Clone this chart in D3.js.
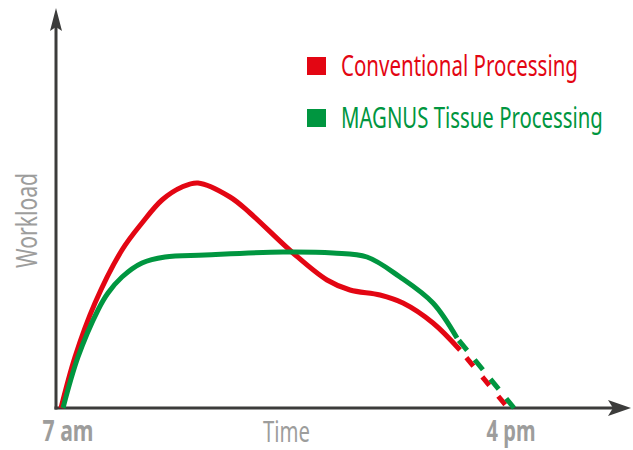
<!DOCTYPE html>
<html>
<head>
<meta charset="utf-8">
<script src="https://d3js.org/d3.v7.min.js"></script>
<style>
  body { margin: 0; background: #fff; }
  text { font-family: "Noto Sans", "Open Sans", sans-serif; }
</style>
</head>
<body>
<div id="chart"></div>
<script>
// time of day in hours, workload in arbitrary units (0-100)
const tickHours = [7, 16];
const tickLabels = ["7 am", "4 pm"];
const seriesNames = ["Conventional Processing", "MAGNUS Tissue Processing"];
const seriesColors = ["#e30613", "#009640"];

const convHours = [7, 7.28, 7.68, 8.22, 8.62, 9.02, 9.42, 9.74, 10.38, 10.78, 11.64, 12.32, 12.78, 13.38, 13.84, 14.44, 14.98];
const convLoad  = [0, 12.75, 26.25, 39.5, 46.25, 52, 55.25, 56.25, 52.75, 48.75, 38.75, 32, 29.5, 28.25, 26.25, 21.25, 14.5];
const convTailHours = [14.98, 15.94];
const convTailLoad  = [14.5, 0];

const magHours = [7.04, 7.34, 7.74, 7.94, 8.22, 8.62, 9.08, 9.88, 11.44, 12.44, 13.12, 13.78, 14.44, 14.92];
const magLoad  = [0, 12.75, 24.5, 28.75, 32.75, 36.25, 37.75, 38.25, 39, 38.75, 37.75, 32.75, 26.25, 17.5];
const magTailHours = [14.92, 16.06];
const magTailLoad  = [17.5, 0];

let width = 633, height = 450;

let svg = d3.select("#chart")
  .append("svg")
    .attr("width", width)
    .attr("height", height);

// Scales
let x = d3.scaleLinear().domain([7, 16]).range([61, 511]);
let y = d3.scaleLinear().domain([0, 100]).range([408, 8]);

let axisColor = "#3c3c3b", labelGrey = "#9d9d9c";
let x0 = x(7) - 5, y0 = y(0);

// squeeze a text horizontally to a given width (the source font is a condensed one)
function fitText(sel, len, pre) {
  let natural = sel.node().getComputedTextLength();
  sel.attr("transform", pre + " scale(" + (len / natural) + ",1)");
}

// y axis with arrow
svg.append("line")
  .attr("x1", x0).attr("y1", y0 + 1.5)
  .attr("x2", x0).attr("y2", y(100) + 16)
  .attr("stroke", axisColor).attr("stroke-width", 3);
svg.append("path")
  .attr("d", "M" + x0 + "," + y(100) + " L" + (x0 + 6) + "," + (y(100) + 23) + " L" + x0 + "," + (y(100) + 19) + " L" + (x0 - 6) + "," + (y(100) + 23) + "Z")
  .attr("fill", axisColor);

// x axis with arrow
let xEnd = 631;
svg.append("line")
  .attr("x1", x0 - 1.5).attr("y1", y0)
  .attr("x2", xEnd - 16).attr("y2", y0)
  .attr("stroke", axisColor).attr("stroke-width", 3);
svg.append("path")
  .attr("d", "M" + xEnd + "," + y0 + " L" + (xEnd - 23) + "," + (y0 - 8) + " L" + (xEnd - 18) + "," + y0 + " L" + (xEnd - 23) + "," + (y0 + 8) + "Z")
  .attr("fill", axisColor);

let line = d3.line()
  .x(function(d) { return x(d[0]); })
  .y(function(d) { return y(d[1]); })
  .curve(d3.curveCatmullRom.alpha(0.5));

let straight = d3.line()
  .x(function(d) { return x(d[0]); })
  .y(function(d) { return y(d[1]); });

let solids = [d3.zip(convHours, convLoad), d3.zip(magHours, magLoad)];
let tails = [d3.zip(convTailHours, convTailLoad), d3.zip(magTailHours, magTailLoad)];
let dashes = [["11,14", 15], ["13,12", 22]];

// dashed tails first, then solid curves (green over red)
[0, 1].forEach(function(i) {
  svg.append("path")
    .attr("d", straight(tails[i]))
    .attr("fill", "none")
    .attr("stroke", seriesColors[i])
    .attr("stroke-width", 5)
    .attr("stroke-dasharray", dashes[i][0])
    .attr("stroke-dashoffset", dashes[i][1]);
});
[0, 1].forEach(function(i) {
  svg.append("path")
    .attr("d", line(solids[i]))
    .attr("fill", "none")
    .attr("stroke", seriesColors[i])
    .attr("stroke-width", 5);
});

// x tick labels
let tickDx = [7, 0], tickLen = [51, 49];
tickHours.forEach(function(h, i) {
  let t = svg.append("text")
    .attr("fill", labelGrey)
    .style("font-size", "28px")
    .style("font-weight", "bold")
    .text(tickLabels[i]);
  fitText(t, tickLen[i], "translate(" + (x(h) + tickDx[i] - tickLen[i] / 2) + ",441)");
});

// axis titles
let timeLabel = svg.append("text")
  .attr("fill", labelGrey)
  .style("font-size", "29px")
  .text("Time");
fitText(timeLabel, 47, "translate(263,442)");

let workLabel = svg.append("text")
  .attr("fill", labelGrey)
  .style("font-size", "29px")
  .text("Workload");
fitText(workLabel, 95, "translate(37,268) rotate(-90)");

// legend
let legendLen = [237, 262];
seriesNames.forEach(function(name, i) {
  let g = svg.append("g")
    .attr("transform", "translate(307," + (57 + i * 52) + ")");
  g.append("rect")
    .attr("width", 19).attr("height", 18)
    .attr("fill", seriesColors[i]);
  let t = g.append("text")
    .attr("fill", seriesColors[i])
    .style("font-size", "29px")
    .text(name);
  fitText(t, legendLen[i], "translate(34,19)");
});
</script>
</body>
</html>
